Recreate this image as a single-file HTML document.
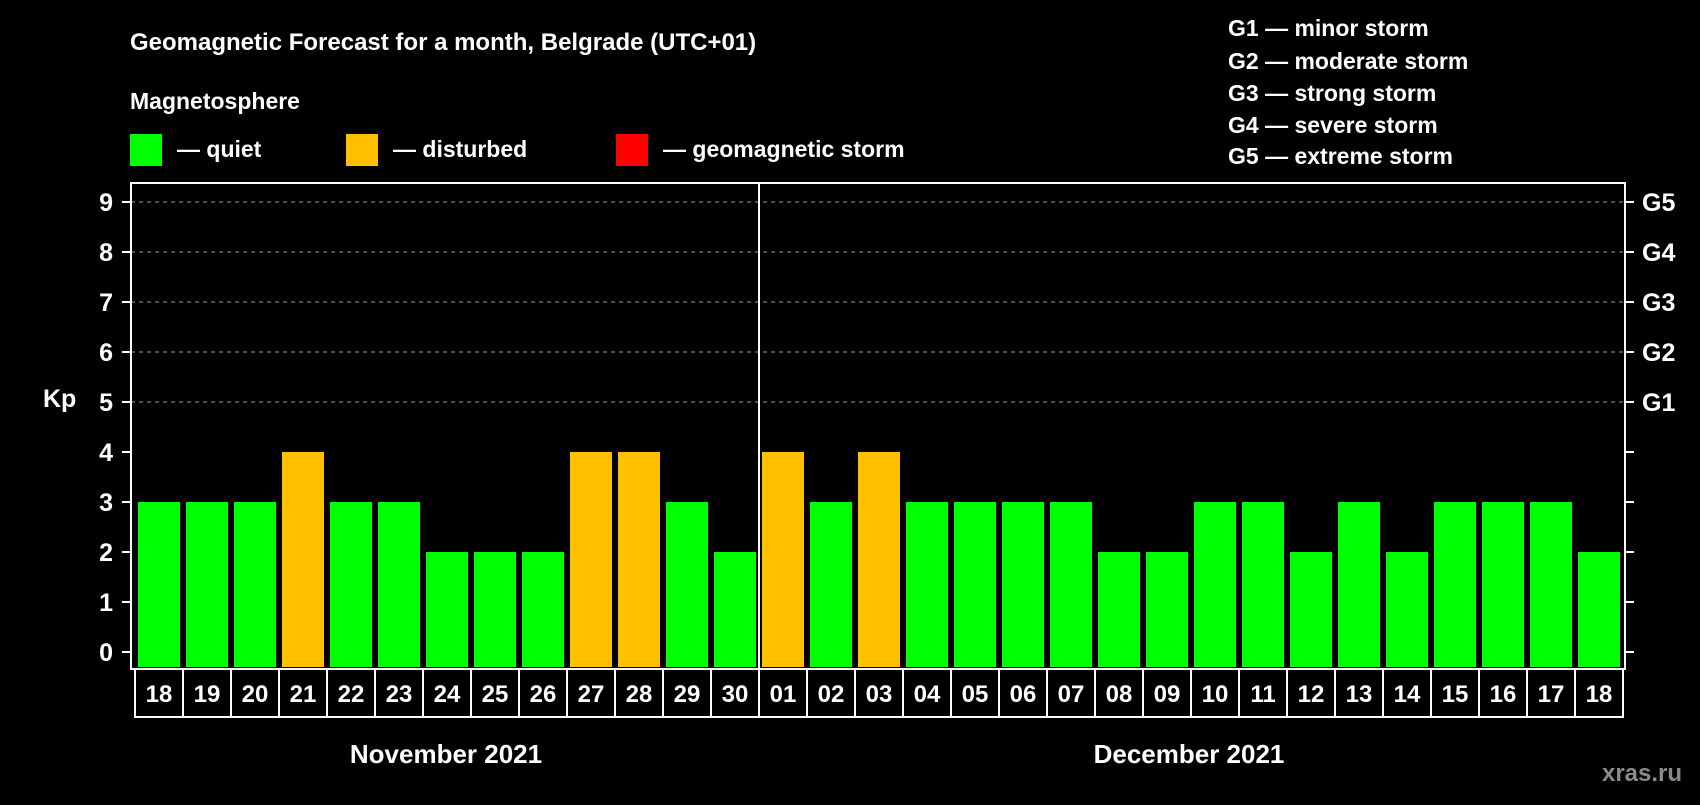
<!DOCTYPE html>
<html><head><meta charset="utf-8"><style>
body{margin:0;background:#000;width:1700px;height:800px;overflow:hidden}
svg text{font-family:"Liberation Sans",sans-serif;font-weight:bold;fill:#fff}
</style></head><body>
<svg id="c" width="1700" height="800">
<text x="130" y="50" font-size="24">Geomagnetic Forecast for a month, Belgrade (UTC+01)</text>
<text x="130" y="109" font-size="23">Magnetosphere</text>
<rect x="130" y="134" width="32" height="32" fill="#00ff00"/>
<text x="177" y="157" font-size="23">— quiet</text>
<rect x="346" y="134" width="32" height="32" fill="#ffc000"/>
<text x="393" y="157" font-size="23">— disturbed</text>
<rect x="616" y="134" width="32" height="32" fill="#ff0000"/>
<text x="663" y="157" font-size="23">— geomagnetic storm</text>
<g font-size="23">
<text x="1228" y="36">G1 — minor storm</text>
<text x="1228" y="69">G2 — moderate storm</text>
<text x="1228" y="101">G3 — strong storm</text>
<text x="1228" y="133">G4 — severe storm</text>
<text x="1228" y="164">G5 — extreme storm</text>
</g>
<text x="43" y="407" font-size="25">Kp</text>
<text x="446" y="763" font-size="26" text-anchor="middle">November 2021</text>
<text x="1189" y="763" font-size="26" text-anchor="middle">December 2021</text>
<text x="1642" y="781" font-size="24" text-anchor="middle" style="fill:#8a8a8a">xras.ru</text>
<g id="plot"></g>
</svg>
<script>
const days=["18","19","20","21","22","23","24","25","26","27","28","29","30","01","02","03","04","05","06","07","08","09","10","11","12","13","14","15","16","17","18"];
const kp=[3,3,3,4,3,3,2,2,2,4,4,3,2,4,3,4,3,3,3,3,2,2,3,3,2,3,2,3,3,3,2];
const yTicks=[0,1,2,3,4,5,6,7,8,9];
const gLabels=["G1","G2","G3","G4","G5"];
const NS="http://www.w3.org/2000/svg";
const g=document.getElementById('plot');
const L=131,R=1625,T=183,B=669;
const y=v=>652-v*50;
const slot=i=>135+i*48;
function mk(t,a){const e=document.createElementNS(NS,t);for(const k in a)e.setAttribute(k,a[k]);g.appendChild(e);return e;}
yTicks.forEach(v=>{
 if(v>=5){const l=mk('line',{x1:L,x2:R,y1:y(v),y2:y(v),stroke:'#999','stroke-dasharray':'4,4'});
 
 }
 const a=mk('line',{x1:L-9,x2:L,y1:y(v),y2:y(v),stroke:'#fff','stroke-width':2});
 
 
 const b=mk('line',{x1:R,x2:R+9,y1:y(v),y2:y(v),stroke:'#fff','stroke-width':2});
 
 
 const t=mk('text',{x:113,y:y(v)+9,'font-size':25,'text-anchor':'end'});t.textContent=v;
 
 
});
gLabels.forEach((s,i)=>{const t=mk('text',{x:1642,y:y(5+i)+9,'font-size':25});t.textContent=s;
 
 });
kp.forEach((v,i)=>{
 const r=mk('rect',{x:slot(i)+3,y:y(v),width:42,height:y(0)-y(v)+15,fill:v>=5?'#ff0000':v>=4?'#ffc000':'#00ff00'});
 
 
 const c=mk('rect',{x:slot(i),y:B,width:48,height:48,fill:'none',stroke:'#fff','stroke-width':2});
 
 
 const t=mk('text',{x:slot(i)+24,y:B+33,'font-size':24,'text-anchor':'middle'});t.textContent=days[i];
 
 
});
const f=mk('rect',{x:L,y:T,width:R-L,height:B-T,fill:'none',stroke:'#fff','stroke-width':2});


const d=mk('line',{x1:slot(13),x2:slot(13),y1:T,y2:B,stroke:'#fff','stroke-width':2});


</script>
</body></html>
